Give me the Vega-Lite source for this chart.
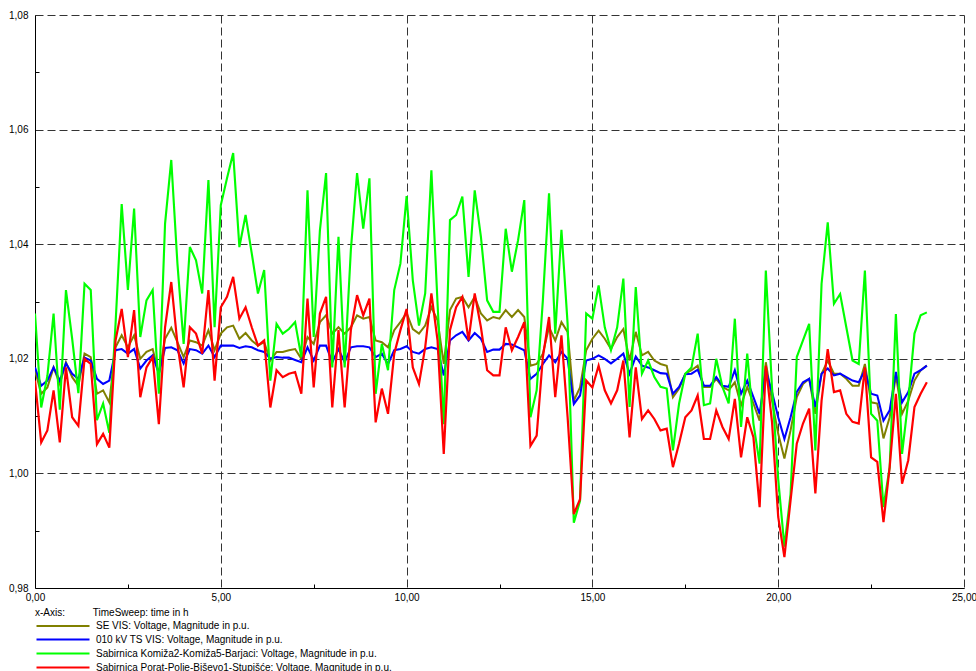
{
"$schema":"https://vega.github.io/schema/vega-lite/v6.json",
"width":929,"height":573,
"autosize":{"type":"none"},
"padding":{"left":35,"top":15,"right":12,"bottom":83},
"background":"#ffffff",
"config":{"view":{"stroke":null},"font":"Liberation Sans"},
"data":{"values":[
{"t":0,"s":"se","v":1.018},{"t":0.167,"s":"se","v":1.0139},{"t":0.333,"s":"se","v":1.015},{"t":0.5,"s":"se","v":1.0185},{"t":0.667,"s":"se","v":1.0156},{"t":0.833,"s":"se","v":1.0194},
{"t":1,"s":"se","v":1.0168},{"t":1.167,"s":"se","v":1.0153},{"t":1.333,"s":"se","v":1.0209},{"t":1.5,"s":"se","v":1.0203},{"t":1.667,"s":"se","v":1.0139},{"t":1.833,"s":"se","v":1.0145},
{"t":2,"s":"se","v":1.0124},{"t":2.167,"s":"se","v":1.022},{"t":2.333,"s":"se","v":1.0241},{"t":2.5,"s":"se","v":1.022},{"t":2.667,"s":"se","v":1.0241},{"t":2.833,"s":"se","v":1.02},
{"t":3,"s":"se","v":1.0212},{"t":3.167,"s":"se","v":1.0217},{"t":3.333,"s":"se","v":1.0174},{"t":3.5,"s":"se","v":1.0235},{"t":3.667,"s":"se","v":1.0254},{"t":3.833,"s":"se","v":1.0229},
{"t":4,"s":"se","v":1.0203},{"t":4.167,"s":"se","v":1.0232},{"t":4.333,"s":"se","v":1.0229},{"t":4.5,"s":"se","v":1.0223},{"t":4.667,"s":"se","v":1.025},{"t":4.833,"s":"se","v":1.0215},
{"t":5,"s":"se","v":1.0244},{"t":5.167,"s":"se","v":1.0255},{"t":5.333,"s":"se","v":1.0258},{"t":5.5,"s":"se","v":1.0235},{"t":5.667,"s":"se","v":1.0245},{"t":5.833,"s":"se","v":1.0232},
{"t":6,"s":"se","v":1.0223},{"t":6.167,"s":"se","v":1.0229},{"t":6.333,"s":"se","v":1.0197},{"t":6.5,"s":"se","v":1.0212},{"t":6.667,"s":"se","v":1.0212},{"t":6.833,"s":"se","v":1.0215},
{"t":7,"s":"se","v":1.0217},{"t":7.167,"s":"se","v":1.02},{"t":7.333,"s":"se","v":1.0238},{"t":7.5,"s":"se","v":1.0226},{"t":7.667,"s":"se","v":1.0264},{"t":7.833,"s":"se","v":1.0276},
{"t":8,"s":"se","v":1.0244},{"t":8.167,"s":"se","v":1.0255},{"t":8.333,"s":"se","v":1.0244},{"t":8.5,"s":"se","v":1.0255},{"t":8.667,"s":"se","v":1.0276},{"t":8.833,"s":"se","v":1.027},
{"t":9,"s":"se","v":1.0273},{"t":9.167,"s":"se","v":1.0232},{"t":9.333,"s":"se","v":1.0229},{"t":9.5,"s":"se","v":1.022},{"t":9.667,"s":"se","v":1.025},{"t":9.833,"s":"se","v":1.0264},
{"t":10,"s":"se","v":1.028},{"t":10.167,"s":"se","v":1.0252},{"t":10.333,"s":"se","v":1.0244},{"t":10.5,"s":"se","v":1.0258},{"t":10.667,"s":"se","v":1.029},{"t":10.833,"s":"se","v":1.0267},
{"t":11,"s":"se","v":1.0191},{"t":11.167,"s":"se","v":1.0285},{"t":11.333,"s":"se","v":1.0305},{"t":11.5,"s":"se","v":1.0308},{"t":11.667,"s":"se","v":1.029},{"t":11.833,"s":"se","v":1.0308},
{"t":12,"s":"se","v":1.0279},{"t":12.167,"s":"se","v":1.0267},{"t":12.333,"s":"se","v":1.0273},{"t":12.5,"s":"se","v":1.027},{"t":12.667,"s":"se","v":1.0285},{"t":12.833,"s":"se","v":1.0273},
{"t":13,"s":"se","v":1.0285},{"t":13.167,"s":"se","v":1.0273},{"t":13.333,"s":"se","v":1.0188},{"t":13.5,"s":"se","v":1.0191},{"t":13.667,"s":"se","v":1.0209},{"t":13.833,"s":"se","v":1.0255},
{"t":14,"s":"se","v":1.0232},{"t":14.167,"s":"se","v":1.0264},{"t":14.333,"s":"se","v":1.0247},{"t":14.5,"s":"se","v":1.0127},{"t":14.667,"s":"se","v":1.015},{"t":14.833,"s":"se","v":1.0215},
{"t":15,"s":"se","v":1.0235},{"t":15.167,"s":"se","v":1.0249},{"t":15.333,"s":"se","v":1.0235},{"t":15.5,"s":"se","v":1.0217},{"t":15.667,"s":"se","v":1.0238},{"t":15.833,"s":"se","v":1.0252},
{"t":16,"s":"se","v":1.0197},{"t":16.167,"s":"se","v":1.0247},{"t":16.333,"s":"se","v":1.0206},{"t":16.5,"s":"se","v":1.0212},{"t":16.667,"s":"se","v":1.0197},{"t":16.833,"s":"se","v":1.0191},
{"t":17,"s":"se","v":1.0188},{"t":17.167,"s":"se","v":1.0133},{"t":17.333,"s":"se","v":1.0148},{"t":17.5,"s":"se","v":1.0174},{"t":17.667,"s":"se","v":1.018},{"t":17.833,"s":"se","v":1.0188},
{"t":18,"s":"se","v":1.0151},{"t":18.167,"s":"se","v":1.0151},{"t":18.333,"s":"se","v":1.0165},{"t":18.5,"s":"se","v":1.0151},{"t":18.667,"s":"se","v":1.0145},{"t":18.833,"s":"se","v":1.0159},
{"t":19,"s":"se","v":1.0119},{"t":19.167,"s":"se","v":1.0151},{"t":19.333,"s":"se","v":1.0122},{"t":19.5,"s":"se","v":1.0092},{"t":19.667,"s":"se","v":1.0194},{"t":19.833,"s":"se","v":1.0127},
{"t":20,"s":"se","v":1.0069},{"t":20.167,"s":"se","v":1.0026},{"t":20.333,"s":"se","v":1.0075},{"t":20.5,"s":"se","v":1.0133},{"t":20.667,"s":"se","v":1.0156},{"t":20.833,"s":"se","v":1.0165},
{"t":21,"s":"se","v":1.0104},{"t":21.167,"s":"se","v":1.0174},{"t":21.333,"s":"se","v":1.0197},{"t":21.5,"s":"se","v":1.0174},{"t":21.667,"s":"se","v":1.0174},{"t":21.833,"s":"se","v":1.0165},
{"t":22,"s":"se","v":1.0153},{"t":22.167,"s":"se","v":1.0153},{"t":22.333,"s":"se","v":1.0191},{"t":22.5,"s":"se","v":1.0124},{"t":22.667,"s":"se","v":1.0122},{"t":22.833,"s":"se","v":1.0061},
{"t":23,"s":"se","v":1.0098},{"t":23.167,"s":"se","v":1.0171},{"t":23.333,"s":"se","v":1.0104},{"t":23.5,"s":"se","v":1.0127},{"t":23.667,"s":"se","v":1.0162},{"t":23.833,"s":"se","v":1.018},
{"t":24,"s":"se","v":1.0188},

{"t":0,"s":"ts","v":1.0185},{"t":0.167,"s":"ts","v":1.0153},{"t":0.333,"s":"ts","v":1.0162},{"t":0.5,"s":"ts","v":1.0185},{"t":0.667,"s":"ts","v":1.0162},{"t":0.833,"s":"ts","v":1.0192},
{"t":1,"s":"ts","v":1.0174},{"t":1.167,"s":"ts","v":1.0165},{"t":1.333,"s":"ts","v":1.0202},{"t":1.5,"s":"ts","v":1.0197},{"t":1.667,"s":"ts","v":1.0165},{"t":1.833,"s":"ts","v":1.0156},
{"t":2,"s":"ts","v":1.0162},{"t":2.167,"s":"ts","v":1.0215},{"t":2.333,"s":"ts","v":1.0217},{"t":2.5,"s":"ts","v":1.0209},{"t":2.667,"s":"ts","v":1.0217},{"t":2.833,"s":"ts","v":1.0183},
{"t":3,"s":"ts","v":1.0197},{"t":3.167,"s":"ts","v":1.0206},{"t":3.333,"s":"ts","v":1.0174},{"t":3.5,"s":"ts","v":1.0219},{"t":3.667,"s":"ts","v":1.022},{"t":3.833,"s":"ts","v":1.0215},
{"t":4,"s":"ts","v":1.0192},{"t":4.167,"s":"ts","v":1.0217},{"t":4.333,"s":"ts","v":1.0215},{"t":4.5,"s":"ts","v":1.0209},{"t":4.667,"s":"ts","v":1.0223},{"t":4.833,"s":"ts","v":1.0203},
{"t":5,"s":"ts","v":1.0223},{"t":5.167,"s":"ts","v":1.0223},{"t":5.333,"s":"ts","v":1.0223},{"t":5.5,"s":"ts","v":1.0219},{"t":5.667,"s":"ts","v":1.0222},{"t":5.833,"s":"ts","v":1.022},
{"t":6,"s":"ts","v":1.0215},{"t":6.167,"s":"ts","v":1.0212},{"t":6.333,"s":"ts","v":1.02},{"t":6.5,"s":"ts","v":1.0203},{"t":6.667,"s":"ts","v":1.0202},{"t":6.833,"s":"ts","v":1.0202},
{"t":7,"s":"ts","v":1.0198},{"t":7.167,"s":"ts","v":1.0194},{"t":7.333,"s":"ts","v":1.022},{"t":7.5,"s":"ts","v":1.0197},{"t":7.667,"s":"ts","v":1.0223},{"t":7.833,"s":"ts","v":1.0223},
{"t":8,"s":"ts","v":1.0194},{"t":8.167,"s":"ts","v":1.0217},{"t":8.333,"s":"ts","v":1.0194},{"t":8.5,"s":"ts","v":1.022},{"t":8.667,"s":"ts","v":1.0222},{"t":8.833,"s":"ts","v":1.0222},
{"t":9,"s":"ts","v":1.022},{"t":9.167,"s":"ts","v":1.0203},{"t":9.333,"s":"ts","v":1.0209},{"t":9.5,"s":"ts","v":1.0191},{"t":9.667,"s":"ts","v":1.0215},{"t":9.833,"s":"ts","v":1.0217},
{"t":10,"s":"ts","v":1.0222},{"t":10.167,"s":"ts","v":1.0212},{"t":10.333,"s":"ts","v":1.0209},{"t":10.5,"s":"ts","v":1.0217},{"t":10.667,"s":"ts","v":1.022},{"t":10.833,"s":"ts","v":1.0217},
{"t":11,"s":"ts","v":1.0171},{"t":11.167,"s":"ts","v":1.0232},{"t":11.333,"s":"ts","v":1.0241},{"t":11.5,"s":"ts","v":1.0247},{"t":11.667,"s":"ts","v":1.0232},{"t":11.833,"s":"ts","v":1.0245},
{"t":12,"s":"ts","v":1.0235},{"t":12.167,"s":"ts","v":1.0212},{"t":12.333,"s":"ts","v":1.0216},{"t":12.5,"s":"ts","v":1.0216},{"t":12.667,"s":"ts","v":1.0226},{"t":12.833,"s":"ts","v":1.0225},
{"t":13,"s":"ts","v":1.022},{"t":13.167,"s":"ts","v":1.0215},{"t":13.333,"s":"ts","v":1.0165},{"t":13.5,"s":"ts","v":1.0174},{"t":13.667,"s":"ts","v":1.0191},{"t":13.833,"s":"ts","v":1.0206},
{"t":14,"s":"ts","v":1.0194},{"t":14.167,"s":"ts","v":1.0212},{"t":14.333,"s":"ts","v":1.02},{"t":14.5,"s":"ts","v":1.0121},{"t":14.667,"s":"ts","v":1.0136},{"t":14.833,"s":"ts","v":1.0197},
{"t":15,"s":"ts","v":1.02},{"t":15.167,"s":"ts","v":1.0206},{"t":15.333,"s":"ts","v":1.02},{"t":15.5,"s":"ts","v":1.0192},{"t":15.667,"s":"ts","v":1.02},{"t":15.833,"s":"ts","v":1.0209},
{"t":16,"s":"ts","v":1.0174},{"t":16.167,"s":"ts","v":1.0204},{"t":16.333,"s":"ts","v":1.0188},{"t":16.5,"s":"ts","v":1.0185},{"t":16.667,"s":"ts","v":1.018},{"t":16.833,"s":"ts","v":1.0175},
{"t":17,"s":"ts","v":1.0174},{"t":17.167,"s":"ts","v":1.0139},{"t":17.333,"s":"ts","v":1.0151},{"t":17.5,"s":"ts","v":1.0173},{"t":17.667,"s":"ts","v":1.0174},{"t":17.833,"s":"ts","v":1.0181},
{"t":18,"s":"ts","v":1.0153},{"t":18.167,"s":"ts","v":1.0153},{"t":18.333,"s":"ts","v":1.0168},{"t":18.5,"s":"ts","v":1.0153},{"t":18.667,"s":"ts","v":1.0151},{"t":18.833,"s":"ts","v":1.018},
{"t":19,"s":"ts","v":1.0139},{"t":19.167,"s":"ts","v":1.0162},{"t":19.333,"s":"ts","v":1.0133},{"t":19.5,"s":"ts","v":1.0104},{"t":19.667,"s":"ts","v":1.018},{"t":19.833,"s":"ts","v":1.0142},
{"t":20,"s":"ts","v":1.0098},{"t":20.167,"s":"ts","v":1.006},{"t":20.333,"s":"ts","v":1.0098},{"t":20.5,"s":"ts","v":1.0142},{"t":20.667,"s":"ts","v":1.0159},{"t":20.833,"s":"ts","v":1.0165},
{"t":21,"s":"ts","v":1.0116},{"t":21.167,"s":"ts","v":1.0174},{"t":21.333,"s":"ts","v":1.0183},{"t":21.5,"s":"ts","v":1.0171},{"t":21.667,"s":"ts","v":1.0174},{"t":21.833,"s":"ts","v":1.0168},
{"t":22,"s":"ts","v":1.0162},{"t":22.167,"s":"ts","v":1.0159},{"t":22.333,"s":"ts","v":1.018},{"t":22.5,"s":"ts","v":1.0139},{"t":22.667,"s":"ts","v":1.0136},{"t":22.833,"s":"ts","v":1.0092},
{"t":23,"s":"ts","v":1.011},{"t":23.167,"s":"ts","v":1.0177},{"t":23.333,"s":"ts","v":1.0124},{"t":23.5,"s":"ts","v":1.0142},{"t":23.667,"s":"ts","v":1.0174},{"t":23.833,"s":"ts","v":1.018},
{"t":24,"s":"ts","v":1.0188},

{"t":0,"s":"g","v":1.0279},{"t":0.167,"s":"g","v":1.0115},{"t":0.333,"s":"g","v":1.017},{"t":0.5,"s":"g","v":1.0279},{"t":0.667,"s":"g","v":1.0111},{"t":0.833,"s":"g","v":1.032},
{"t":1,"s":"g","v":1.0235},{"t":1.167,"s":"g","v":1.014},{"t":1.333,"s":"g","v":1.0331},{"t":1.5,"s":"g","v":1.032},{"t":1.667,"s":"g","v":1.0093},{"t":1.833,"s":"g","v":1.0122},
{"t":2,"s":"g","v":1.0071},{"t":2.167,"s":"g","v":1.026},{"t":2.333,"s":"g","v":1.047},{"t":2.5,"s":"g","v":1.032},{"t":2.667,"s":"g","v":1.0462},{"t":2.833,"s":"g","v":1.0238},
{"t":3,"s":"g","v":1.0302},{"t":3.167,"s":"g","v":1.032},{"t":3.333,"s":"g","v":1.0139},{"t":3.5,"s":"g","v":1.0436},{"t":3.667,"s":"g","v":1.0547},{"t":3.833,"s":"g","v":1.0366},
{"t":4,"s":"g","v":1.0226},{"t":4.167,"s":"g","v":1.0395},{"t":4.333,"s":"g","v":1.0372},{"t":4.5,"s":"g","v":1.0314},{"t":4.667,"s":"g","v":1.0512},{"t":4.833,"s":"g","v":1.0255},
{"t":5,"s":"g","v":1.0468},{"t":5.167,"s":"g","v":1.0515},{"t":5.333,"s":"g","v":1.0559},{"t":5.5,"s":"g","v":1.0395},{"t":5.667,"s":"g","v":1.0451},{"t":5.833,"s":"g","v":1.0384},
{"t":6,"s":"g","v":1.0314},{"t":6.167,"s":"g","v":1.0355},{"t":6.333,"s":"g","v":1.0162},{"t":6.5,"s":"g","v":1.0261},{"t":6.667,"s":"g","v":1.0244},{"t":6.833,"s":"g","v":1.0252},
{"t":7,"s":"g","v":1.0264},{"t":7.167,"s":"g","v":1.0203},{"t":7.333,"s":"g","v":1.0494},{"t":7.5,"s":"g","v":1.0238},{"t":7.667,"s":"g","v":1.0424},{"t":7.833,"s":"g","v":1.0524},
{"t":8,"s":"g","v":1.0185},{"t":8.167,"s":"g","v":1.0413},{"t":8.333,"s":"g","v":1.0185},{"t":8.5,"s":"g","v":1.039},{"t":8.667,"s":"g","v":1.0524},{"t":8.833,"s":"g","v":1.0427},
{"t":9,"s":"g","v":1.0515},{"t":9.167,"s":"g","v":1.0139},{"t":9.333,"s":"g","v":1.0226},{"t":9.5,"s":"g","v":1.018},{"t":9.667,"s":"g","v":1.032},{"t":9.833,"s":"g","v":1.0366},
{"t":10,"s":"g","v":1.0484},{"t":10.167,"s":"g","v":1.0337},{"t":10.333,"s":"g","v":1.0258},{"t":10.5,"s":"g","v":1.0314},{"t":10.667,"s":"g","v":1.0529},{"t":10.833,"s":"g","v":1.0296},
{"t":11,"s":"g","v":1.0086},{"t":11.167,"s":"g","v":1.0442},{"t":11.333,"s":"g","v":1.0451},{"t":11.5,"s":"g","v":1.0483},{"t":11.667,"s":"g","v":1.0343},{"t":11.833,"s":"g","v":1.0494},
{"t":12,"s":"g","v":1.0413},{"t":12.167,"s":"g","v":1.0302},{"t":12.333,"s":"g","v":1.0282},{"t":12.5,"s":"g","v":1.0282},{"t":12.667,"s":"g","v":1.0427},{"t":12.833,"s":"g","v":1.0352},
{"t":13,"s":"g","v":1.0407},{"t":13.167,"s":"g","v":1.0477},{"t":13.333,"s":"g","v":1.0098},{"t":13.5,"s":"g","v":1.0145},{"t":13.667,"s":"g","v":1.0302},{"t":13.833,"s":"g","v":1.0489},
{"t":14,"s":"g","v":1.0244},{"t":14.167,"s":"g","v":1.0425},{"t":14.333,"s":"g","v":1.0261},{"t":14.5,"s":"g","v":0.9914},{"t":14.667,"s":"g","v":0.9952},{"t":14.833,"s":"g","v":1.0279},
{"t":15,"s":"g","v":1.027},{"t":15.167,"s":"g","v":1.0328},{"t":15.333,"s":"g","v":1.0255},{"t":15.5,"s":"g","v":1.0215},{"t":15.667,"s":"g","v":1.0255},{"t":15.833,"s":"g","v":1.034},
{"t":16,"s":"g","v":1.0116},{"t":16.167,"s":"g","v":1.0325},{"t":16.333,"s":"g","v":1.0174},{"t":16.5,"s":"g","v":1.0197},{"t":16.667,"s":"g","v":1.0168},{"t":16.833,"s":"g","v":1.0151},
{"t":17,"s":"g","v":1.0148},{"t":17.167,"s":"g","v":1.004},{"t":17.333,"s":"g","v":1.0122},{"t":17.5,"s":"g","v":1.0174},{"t":17.667,"s":"g","v":1.0185},{"t":17.833,"s":"g","v":1.0244},
{"t":18,"s":"g","v":1.0119},{"t":18.167,"s":"g","v":1.0122},{"t":18.333,"s":"g","v":1.02},{"t":18.5,"s":"g","v":1.0151},{"t":18.667,"s":"g","v":1.0122},{"t":18.833,"s":"g","v":1.027},
{"t":19,"s":"g","v":1.0081},{"t":19.167,"s":"g","v":1.0209},{"t":19.333,"s":"g","v":1.0087},{"t":19.5,"s":"g","v":1.0017},{"t":19.667,"s":"g","v":1.0354},{"t":19.833,"s":"g","v":1.015},
{"t":20,"s":"g","v":0.999},{"t":20.167,"s":"g","v":0.9872},{"t":20.333,"s":"g","v":0.9964},{"t":20.5,"s":"g","v":1.0203},{"t":20.667,"s":"g","v":1.0232},{"t":20.833,"s":"g","v":1.0261},
{"t":21,"s":"g","v":1.004},{"t":21.167,"s":"g","v":1.0331},{"t":21.333,"s":"g","v":1.0438},{"t":21.5,"s":"g","v":1.0296},{"t":21.667,"s":"g","v":1.0313},{"t":21.833,"s":"g","v":1.0255},
{"t":22,"s":"g","v":1.0197},{"t":22.167,"s":"g","v":1.0191},{"t":22.333,"s":"g","v":1.0354},{"t":22.5,"s":"g","v":1.0104},{"t":22.667,"s":"g","v":1.0092},{"t":22.833,"s":"g","v":0.9941},
{"t":23,"s":"g","v":1.0011},{"t":23.167,"s":"g","v":1.0278},{"t":23.333,"s":"g","v":1.0034},{"t":23.5,"s":"g","v":1.0127},{"t":23.667,"s":"g","v":1.0244},{"t":23.833,"s":"g","v":1.0276},
{"t":24,"s":"g","v":1.0281},

{"t":0,"s":"r","v":1.0162},{"t":0.167,"s":"r","v":1.0054},{"t":0.333,"s":"r","v":1.0075},{"t":0.5,"s":"r","v":1.0145},{"t":0.667,"s":"r","v":1.0054},{"t":0.833,"s":"r","v":1.0185},
{"t":1,"s":"r","v":1.0098},{"t":1.167,"s":"r","v":1.0083},{"t":1.333,"s":"r","v":1.02},{"t":1.5,"s":"r","v":1.0191},{"t":1.667,"s":"r","v":1.0051},{"t":1.833,"s":"r","v":1.0069},
{"t":2,"s":"r","v":1.0045},{"t":2.167,"s":"r","v":1.0232},{"t":2.333,"s":"r","v":1.0287},{"t":2.5,"s":"r","v":1.0203},{"t":2.667,"s":"r","v":1.0285},{"t":2.833,"s":"r","v":1.0133},
{"t":3,"s":"r","v":1.0185},{"t":3.167,"s":"r","v":1.0203},{"t":3.333,"s":"r","v":1.0086},{"t":3.5,"s":"r","v":1.0255},{"t":3.667,"s":"r","v":1.0334},{"t":3.833,"s":"r","v":1.0226},
{"t":4,"s":"r","v":1.015},{"t":4.167,"s":"r","v":1.0255},{"t":4.333,"s":"r","v":1.0244},{"t":4.5,"s":"r","v":1.0209},{"t":4.667,"s":"r","v":1.032},{"t":4.833,"s":"r","v":1.0162},
{"t":5,"s":"r","v":1.029},{"t":5.167,"s":"r","v":1.0308},{"t":5.333,"s":"r","v":1.0343},{"t":5.5,"s":"r","v":1.027},{"t":5.667,"s":"r","v":1.029},{"t":5.833,"s":"r","v":1.0255},
{"t":6,"s":"r","v":1.0223},{"t":6.167,"s":"r","v":1.0232},{"t":6.333,"s":"r","v":1.0115},{"t":6.5,"s":"r","v":1.018},{"t":6.667,"s":"r","v":1.0168},{"t":6.833,"s":"r","v":1.0174},
{"t":7,"s":"r","v":1.0177},{"t":7.167,"s":"r","v":1.0139},{"t":7.333,"s":"r","v":1.0305},{"t":7.5,"s":"r","v":1.015},{"t":7.667,"s":"r","v":1.0279},{"t":7.833,"s":"r","v":1.0308},
{"t":8,"s":"r","v":1.0115},{"t":8.167,"s":"r","v":1.025},{"t":8.333,"s":"r","v":1.0115},{"t":8.5,"s":"r","v":1.025},{"t":8.667,"s":"r","v":1.0311},{"t":8.833,"s":"r","v":1.0276},
{"t":9,"s":"r","v":1.0305},{"t":9.167,"s":"r","v":1.0089},{"t":9.333,"s":"r","v":1.0148},{"t":9.5,"s":"r","v":1.0104},{"t":9.667,"s":"r","v":1.0209},{"t":9.833,"s":"r","v":1.025},
{"t":10,"s":"r","v":1.0287},{"t":10.167,"s":"r","v":1.0185},{"t":10.333,"s":"r","v":1.0156},{"t":10.5,"s":"r","v":1.022},{"t":10.667,"s":"r","v":1.0314},{"t":10.833,"s":"r","v":1.0232},
{"t":11,"s":"r","v":1.0034},{"t":11.167,"s":"r","v":1.025},{"t":11.333,"s":"r","v":1.029},{"t":11.5,"s":"r","v":1.0308},{"t":11.667,"s":"r","v":1.0232},{"t":11.833,"s":"r","v":1.0314},
{"t":12,"s":"r","v":1.0255},{"t":12.167,"s":"r","v":1.018},{"t":12.333,"s":"r","v":1.0171},{"t":12.5,"s":"r","v":1.0171},{"t":12.667,"s":"r","v":1.0255},{"t":12.833,"s":"r","v":1.0215},
{"t":13,"s":"r","v":1.0238},{"t":13.167,"s":"r","v":1.0264},{"t":13.333,"s":"r","v":1.0048},{"t":13.5,"s":"r","v":1.0066},{"t":13.667,"s":"r","v":1.0203},{"t":13.833,"s":"r","v":1.0273},
{"t":14,"s":"r","v":1.0133},{"t":14.167,"s":"r","v":1.0241},{"t":14.333,"s":"r","v":1.0098},{"t":14.5,"s":"r","v":0.9929},{"t":14.667,"s":"r","v":0.9955},{"t":14.833,"s":"r","v":1.0162},
{"t":15,"s":"r","v":1.015},{"t":15.167,"s":"r","v":1.0188},{"t":15.333,"s":"r","v":1.0145},{"t":15.5,"s":"r","v":1.0122},{"t":15.667,"s":"r","v":1.0145},{"t":15.833,"s":"r","v":1.0197},
{"t":16,"s":"r","v":1.0063},{"t":16.167,"s":"r","v":1.0185},{"t":16.333,"s":"r","v":1.0095},{"t":16.5,"s":"r","v":1.011},{"t":16.667,"s":"r","v":1.0095},{"t":16.833,"s":"r","v":1.0075},
{"t":17,"s":"r","v":1.0078},{"t":17.167,"s":"r","v":1.0011},{"t":17.333,"s":"r","v":1.0052},{"t":17.5,"s":"r","v":1.0098},{"t":17.667,"s":"r","v":1.011},{"t":17.833,"s":"r","v":1.0136},
{"t":18,"s":"r","v":1.006},{"t":18.167,"s":"r","v":1.006},{"t":18.333,"s":"r","v":1.011},{"t":18.5,"s":"r","v":1.0081},{"t":18.667,"s":"r","v":1.006},{"t":18.833,"s":"r","v":1.013},
{"t":19,"s":"r","v":1.0028},{"t":19.167,"s":"r","v":1.0098},{"t":19.333,"s":"r","v":1.0063},{"t":19.5,"s":"r","v":0.9941},{"t":19.667,"s":"r","v":1.0188},{"t":19.833,"s":"r","v":1.009},
{"t":20,"s":"r","v":0.9924},{"t":20.167,"s":"r","v":0.9854},{"t":20.333,"s":"r","v":0.9953},{"t":20.5,"s":"r","v":1.0052},{"t":20.667,"s":"r","v":1.0087},{"t":20.833,"s":"r","v":1.0113},
{"t":21,"s":"r","v":0.9965},{"t":21.167,"s":"r","v":1.0127},{"t":21.333,"s":"r","v":1.0217},{"t":21.5,"s":"r","v":1.0142},{"t":21.667,"s":"r","v":1.0145},{"t":21.833,"s":"r","v":1.0104},
{"t":22,"s":"r","v":1.009},{"t":22.167,"s":"r","v":1.0087},{"t":22.333,"s":"r","v":1.0185},{"t":22.5,"s":"r","v":1.0028},{"t":22.667,"s":"r","v":1.002},{"t":22.833,"s":"r","v":0.9915},
{"t":23,"s":"r","v":1.0011},{"t":23.167,"s":"r","v":1.0139},{"t":23.333,"s":"r","v":0.9982},{"t":23.5,"s":"r","v":1.0023},{"t":23.667,"s":"r","v":1.0116},{"t":23.833,"s":"r","v":1.0139},
{"t":24,"s":"r","v":1.0159}
]},
"mark":{"type":"line","strokeJoin":"miter","strokeCap":"butt","clip":true},
"encoding":{
"x":{"field":"t","type":"quantitative","scale":{"domain":[0,25],"nice":false,"zero":false},
 "axis":{"title":null,"values":[0,2.5,5,7.5,10,12.5,15,17.5,20,22.5,25],
  "domain":true,"domainColor":"#000000","domainWidth":1,
  "grid":true,"gridColor":"#333333","gridWidth":1,"gridDash":[8,4],
  "gridOpacity":{"condition":{"test":"datum.value % 5 == 0","value":1},"value":0},
  "ticks":true,"tickColor":"#000000","tickWidth":1,
  "tickSize":{"condition":{"test":"datum.value % 5 == 0","value":0},"value":-4},
  "labelExpr":"datum.value % 5 == 0 ? replace(format(datum.value,'.2f'),'.',',') : ''",
  "labelFont":"Liberation Sans","labelFontSize":10,"labelColor":"#000000","labelPadding":4,"labelFlush":false,"labelOverlap":false}},
"y":{"field":"v","type":"quantitative","scale":{"domain":[0.98,1.08],"nice":false,"zero":false},
 "axis":{"title":null,"values":[0.98,0.99,1.0,1.01,1.02,1.03,1.04,1.05,1.06,1.07,1.08],
  "domain":true,"domainColor":"#000000","domainWidth":1,
  "grid":true,"gridColor":"#333333","gridWidth":1,"gridDash":[8,4],
  "gridOpacity":{"condition":{"test":"round(datum.value*100) % 2 == 0","value":1},"value":0},
  "ticks":true,"tickColor":"#000000","tickWidth":1,
  "tickSize":{"condition":{"test":"round(datum.value*100) % 2 == 0","value":0},"value":-4},
  "labelExpr":"round(datum.value*100) % 2 == 0 ? replace(format(datum.value,'.2f'),'.',',') : ''",
  "labelFont":"Liberation Sans","labelFontSize":10,"labelColor":"#000000","labelPadding":7,"labelFlush":false,"labelOverlap":false}},
"color":{"field":"s","type":"nominal",
 "scale":{"domain":["se","ts","g","r"],"range":["#808000","#0000ff","#00ff00","#ff0000"]},
 "legend":{"orient":"none","legendX":0,"legendY":593,"direction":"vertical",
  "title":"x-Axis:\u00a0\u00a0\u00a0\u00a0\u00a0\u00a0\u00a0\u00a0\u00a0\u00a0TimeSweep: time in h",
  "titleFont":"Liberation Sans","titleFontSize":10,"titleFontWeight":"normal","titleColor":"#000000","titlePadding":2,"titleLimit":0,
  "labelFont":"Liberation Sans","labelFontSize":10,"labelColor":"#000000","labelOffset":48,"labelLimit":0,
  "symbolType":"M-1,0H9.6","symbolSize":100,"symbolStrokeWidth":3,"symbolFillColor":"transparent","rowPadding":2,"padding":0,
  "labelExpr":"datum.label == 'se' ? 'SE VIS: Voltage, Magnitude in p.u.' : datum.label == 'ts' ? '010 kV TS VIS: Voltage, Magnitude in p.u.' : datum.label == 'g' ? 'Sabirnica Komiža2-Komiža5-Barjaci: Voltage, Magnitude in p.u.' : 'Sabirnica Porat-Polje-Biševo1-Stupišće: Voltage, Magnitude in p.u.'"}},
"strokeWidth":{"field":"s","type":"nominal","scale":{"domain":["se","ts","g","r"],"range":[2,2.2,1.6,1.6]},"legend":null}
}
}
